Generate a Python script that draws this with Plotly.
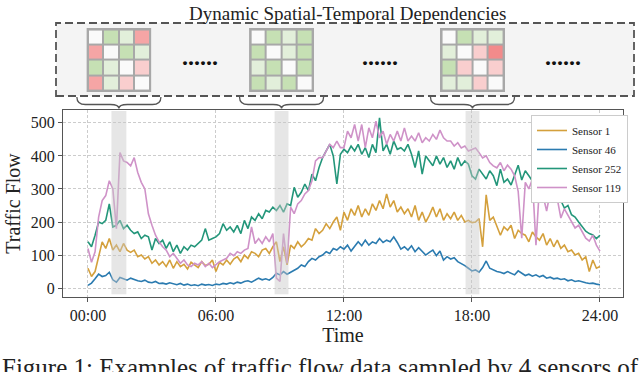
import plotly.graph_objects as go

W, H = 640, 372

# Flujo de tráfico cada 10 min, de 00:00 a 24:00
horas = [i / 6 for i in range(145)]

sensor_1 = [
    60, 35, 50, 95, 140, 120,
    150, 115, 130, 110, 135, 115,
    108, 115, 95, 100, 88, 95,
    75, 85, 70, 80, 65, 85,
    60, 80, 65, 72, 58, 78,
    70, 62, 80, 68, 72, 85,
    50, 78, 70, 85, 72, 88,
    95, 80, 100, 90, 110, 105,
    95, 115, 120, 105, 125, 140,
    80, 125, 70, 130, 120, 140,
    125, 135, 150, 145, 180, 165,
    175, 195, 180, 200, 215, 175,
    230, 205, 240, 220, 250, 215,
    240, 220, 255, 235, 265, 240,
    285, 245, 265, 230, 245, 225,
    240, 215, 250, 205, 230, 200,
    220, 245, 215, 240, 205, 225,
    210, 230, 205, 220, 200, 205,
    198, 200, 210, 125, 282, 205,
    215, 190, 160, 185, 175, 190,
    150, 175, 165, 160, 140, 170,
    155, 145, 165, 130, 150, 125,
    145, 120, 130, 110, 115, 100,
    105, 85, 95, 50, 85, 60,
    65,
]

sensor_46 = [
    8, 15, 28, 42, 35, 38,
    48, 25, 18, 32, 28, 24,
    30, 25, 22, 20, 24, 18,
    16, 20, 14, 15, 12, 16,
    12, 10, 14, 9, 12, 8,
    10, 7, 12, 9, 11, 8,
    12, 10, 14, 12, 16, 13,
    18, 15, 20, 22, 18, 25,
    30, 25, 28, 24, 32, 45,
    40, 50, 42, 48, 55, 60,
    70, 65, 80, 90, 85, 95,
    100, 110, 105, 120, 115, 125,
    118, 130, 112, 125, 140, 128,
    145, 130, 140, 135, 150, 138,
    145, 140, 155, 138, 118, 125,
    115, 128, 110, 122, 112, 100,
    108, 115, 98, 112, 85, 95,
    88, 92, 80, 75, 68, 60,
    52, 55, 48, 62, 82, 60,
    55, 50, 48, 44, 50, 46,
    40, 52, 45, 38, 42, 36,
    40, 34, 38, 30, 33, 28,
    30, 26, 28, 22, 25, 20,
    22, 18, 16, 14, 15, 12,
    10,
]

sensor_252 = [
    140, 125, 160, 200, 195, 205,
    255, 185, 190, 205, 180, 190,
    175, 165, 170, 150, 160, 155,
    115, 150, 135, 145, 120, 140,
    110, 130, 105, 125, 115, 130,
    125, 135, 145, 180, 145, 150,
    155, 165, 195, 175, 185, 170,
    190, 165, 205, 180, 215, 205,
    225, 210, 235, 230, 245, 235,
    250, 230, 255, 250, 305, 275,
    290, 315, 295, 345, 325, 365,
    395, 415, 435, 400, 315, 405,
    420, 410, 430, 415, 435, 405,
    425, 395, 435, 410, 515, 415,
    435, 405, 445, 420, 425, 415,
    435, 405, 365, 415, 345, 400,
    385, 370, 400, 375, 395, 365,
    385, 360, 395, 370, 385, 375,
    340, 330, 360, 345, 330, 355,
    340, 310, 360, 320, 330, 312,
    345, 372, 327, 355, 340, 324,
    340, 330, 293, 310, 285, 273,
    282, 265, 242, 250, 222, 215,
    200, 185, 172, 165, 161, 150,
    160,
]

sensor_119 = [
    120, 78, 110, 215, 265, 280,
    325, 300, 180, 410, 385, 380,
    370, 395, 350, 320, 300, 225,
    190, 160, 140, 125, 115, 95,
    105, 90, 75, 85, 70, 65,
    75, 70, 80, 65, 75, 62,
    72, 80, 85, 90, 105, 98,
    110, 105, 115, 120, 185, 135,
    150, 135, 155, 140, 165, 30,
    20, 165, 75, 245, 225, 255,
    265, 285, 295, 325, 385, 395,
    395, 415, 435, 425, 445, 425,
    425, 475, 455, 495, 445, 495,
    425, 485, 455, 505, 455, 475,
    435, 465, 445, 475, 445, 485,
    445, 460, 445, 470, 440, 455,
    445, 465, 450, 478, 455, 445,
    445, 430, 440, 424, 430, 415,
    420, 424, 410, 394, 400, 380,
    370, 364, 380, 355, 372, 360,
    340, 293, 151, 320, 300, 330,
    130, 312, 280, 233, 290, 282,
    270, 212, 240, 220, 200, 182,
    190, 170, 151, 142, 160, 130,
    112,
]

sensores = ["Sensor 1", "Sensor 46", "Sensor 252", "Sensor 119"]
colores = ["#d4a03c", "#2b7bb0", "#23967a", "#cf92c8"]

# Ventanas resaltadas (horas)
banda_ini = [1.1, 8.75, 17.7]
banda_fin = [1.8, 9.4, 18.35]

# Matrices de dependencia: 0 diagonal, >0 verde, <0 rojo
matriz_1 = [[0, 2, 1, -2], [-2, 0, 2, 1], [2, 1, 0, -1], [-2, 1, -1, 0]]
matriz_2 = [[0, 2, 1, 2], [2, 0, 1, 2], [1, 2, 0, 2], [2, 1, 2, 0]]
matriz_3 = [[0, 2, 1, 1], [1, 0, -1, -3], [2, -1, 0, -1], [1, 1, -1, 0]]

ticks_x = [0, 6, 12, 18, 24]
ticks_x_txt = ["00:00", "06:00", "12:00", "18:00", "24:00"]
ticks_y = [0, 100, 200, 300, 400, 500]

FUENTE = "Liberation Serif, Times New Roman, serif"
X_RANGE = [-1.17, 25.08]
PX_L, PX_R = 63, 623


def px(x):
    return x / W


def py(y):
    return 1 - y / H


def hora_a_px(h):
    return PX_L + (h - X_RANGE[0]) / (X_RANGE[1] - X_RANGE[0]) * (PX_R - PX_L)


fig = go.Figure()

for nombre, serie, color in zip(sensores, [sensor_1, sensor_46, sensor_252, sensor_119], colores):
    fig.add_trace(go.Scatter(
        x=horas, y=serie, mode="lines", name=nombre,
        line=dict(color=color, width=1.6),
    ))

# Bandas grises sobre las series
for a, b in zip(banda_ini, banda_fin):
    fig.add_shape(type="rect", xref="x", yref="y domain", x0=a, x1=b, y0=0.015, y1=0.995,
                  fillcolor="rgba(200,200,200,0.45)", line_width=0, layer="above")

# Caja discontinua superior
fig.add_shape(type="rect", xref="paper", yref="paper",
              x0=px(56), x1=px(634), y0=py(96), y1=py(23),
              fillcolor="#f4f4f4", line=dict(color="#555555", width=1.8, dash="8px,4px"),
              layer="below")

# Escala discreta para las celdas
celdas = ["#f28b8b", "#f5a5a5", "#f9cece", "#fafafa", "#e2efda", "#c6e0b4"]
escala = []
for i, c in enumerate(celdas):
    escala += [[i / len(celdas), c], [(i + 1) / len(celdas), c]]

for k, (m, a, b) in enumerate(zip([matriz_1, matriz_2, matriz_3], banda_ini, banda_fin), start=2):
    cx = hora_a_px((a + b) / 2)
    fig.add_trace(go.Heatmap(
        z=m, xaxis=f"x{k}", yaxis=f"y{k}", colorscale=escala, zmin=-3.5, zmax=2.5,
        showscale=False, xgap=2, ygap=2, hoverinfo="skip",
    ))
    fig.update_layout({
        f"xaxis{k}": dict(domain=[px(cx - 32.5), px(cx + 32.5)], range=[-0.6, 3.6],
                          visible=False, anchor=f"y{k}"),
        f"yaxis{k}": dict(domain=[py(92), py(28)], range=[3.6, -0.6],
                          visible=False, anchor=f"x{k}"),
    })
    fig.add_shape(type="rect", xref=f"x{k}", yref=f"y{k}", x0=-0.6, x1=3.6, y0=-0.6, y1=3.6,
                  fillcolor="#a8a8a8", line_width=0, layer="below")

    # Llave bajo la caja apuntando a la banda
    hc = (a + b) / 2
    x0, x1, r = hc - 1.97, hc + 1.97, 0.4
    yt, ym, yb = py(97), py(104.5), py(108.5)
    path = (f"M {x0},{yt} Q {x0},{ym} {x0 + r},{ym} L {hc - r},{ym} "
            f"Q {hc},{ym} {hc},{yb} Q {hc},{ym} {hc + r},{ym} L {x1 - r},{ym} "
            f"Q {x1},{ym} {x1},{yt}")
    fig.add_shape(type="path", xref="x", yref="paper", path=path,
                  line=dict(color="#555555", width=1.3))

# Puntos suspensivos
for xd in [200, 380, 563]:
    fig.add_annotation(x=px(xd), y=py(57.5), xref="paper", yref="paper", text="<b>......</b>",
                       xanchor="center", yanchor="middle", showarrow=False,
                       font=dict(family=FUENTE, size=24, color="#111111"))

fig.add_annotation(x=px(347), y=py(1), xref="paper", yref="paper",
                   xanchor="center", yanchor="top",
                   text="Dynamic Spatial-Temporal Dependencies", showarrow=False,
                   font=dict(family=FUENTE, size=19, color="#222222"))

fig.add_annotation(x=0, y=py(352), xref="paper", yref="paper", xanchor="left", yanchor="top",
                   text="Figure 1: Examples of traffic flow data sampled by 4 sensors of",
                   showarrow=False, font=dict(family=FUENTE, size=25, color="#222222"))

ejes = dict(showline=True, mirror=True, linecolor="#555555", linewidth=1.2,
            ticks="outside", ticklen=4, tickcolor="#555555",
            showgrid=True, gridcolor="#cccccc", griddash="3px,2px", gridwidth=0.8,
            zeroline=False, tickfont=dict(family=FUENTE, size=16, color="#222222"))

fig.update_layout(
    width=W, height=H,
    margin=dict(l=0, r=0, t=0, b=0),
    paper_bgcolor="white", plot_bgcolor="white",
    font=dict(family=FUENTE, color="#222222"),
    xaxis=dict(domain=[px(PX_L), px(PX_R)], range=X_RANGE, tickvals=ticks_x,
               ticktext=ticks_x_txt, **ejes,
               title=dict(text="Time", font=dict(family=FUENTE, size=20), standoff=2)),
    yaxis=dict(domain=[py(297), py(110)], range=[-27, 539], tickvals=ticks_y, **ejes,
               title=dict(text="Traffic Flow", font=dict(family=FUENTE, size=20), standoff=4)),
    legend=dict(x=px(628), y=py(115), xanchor="right", yanchor="top",
                bgcolor="white", bordercolor="#cccccc", borderwidth=1,
                font=dict(family=FUENTE, size=11, color="#222222"),
                itemwidth=30, tracegroupgap=0),
    showlegend=True,
)

# Sin margen del body para que la figura ocupe la ventana exacta
fig.write_html("out.html", config={"displayModeBar": False},
               post_script="document.body.style.margin='0';")
